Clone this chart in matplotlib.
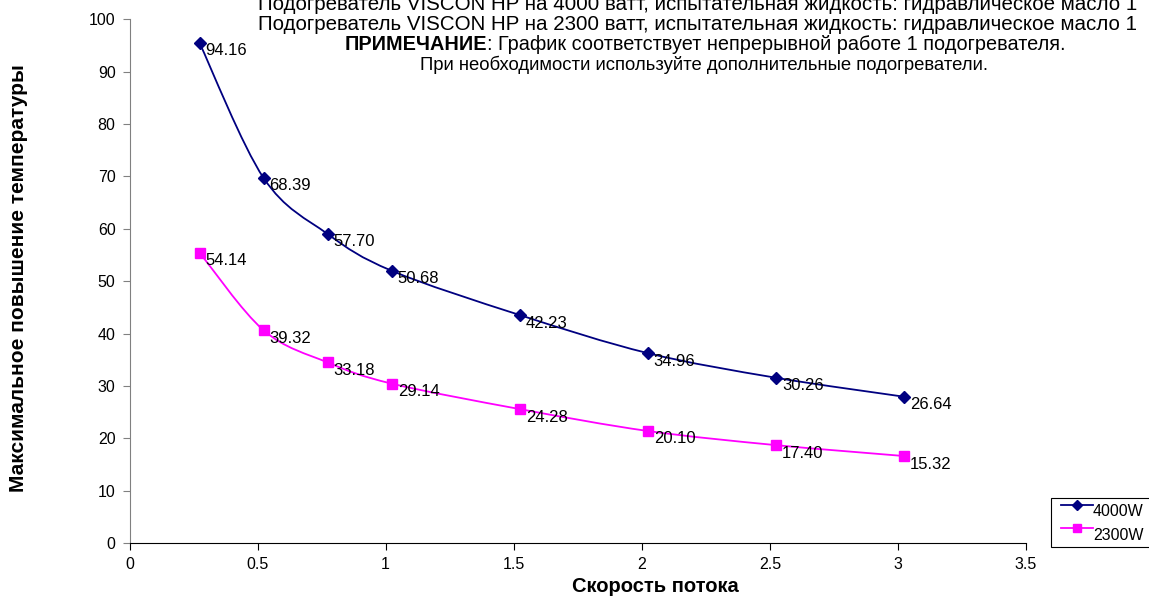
import matplotlib
matplotlib.use("Agg")
import matplotlib.pyplot as plt
import matplotlib.transforms as mtransforms
from matplotlib.path import Path
from matplotlib.patches import PathPatch, Rectangle
from matplotlib.lines import Line2D
import numpy as np

plt.rcParams['font.family'] = ['Liberation Sans', 'DejaVu Sans']

flow = [0.25, 0.5, 0.75, 1.0, 1.5, 2.0, 2.5, 3.0]
rise_4000 = [94.16, 68.39, 57.70, 50.68, 42.23, 34.96, 30.26, 26.64]
rise_2300 = [54.14, 39.32, 33.18, 29.14, 24.28, 20.10, 17.40, 15.32]
series_names = ["4000W", "2300W"]
title_lines = [
    "Подогреватель VISCON HP на 4000 ватт, испытательная жидкость: гидравлическое масло 1",
    "Подогреватель VISCON HP на 2300 ватт, испытательная жидкость: гидравлическое масло 1",
]
note_bold = "ПРИМЕЧАНИЕ"
note_rest = ": График соответствует непрерывной работе 1 подогревателя."
note_line2 = "При необходимости используйте дополнительные подогреватели."
xlabel = "Скорость потока"
ylabel = "Максимальное повышение температуры"

W, H, DPI = 1149, 597, 100
fig = plt.figure(figsize=(W / DPI, H / DPI), dpi=DPI)
ax = fig.add_axes([129.5 / W, 1 - 543.3 / H, (1026 - 129.5) / W, (543.3 - 19.3) / H])

ax.set_xlim(0, 3.5)
ax.set_ylim(0, 100)
ax.set_xticks(np.arange(0, 3.51, 0.5))
ax.set_xticklabels(["0", "0.5", "1", "1.5", "2", "2.5", "3", "3.5"])
ax.set_yticks(np.arange(0, 101, 10))
for s in ["top", "right"]:
    ax.spines[s].set_visible(False)
ax.spines["left"].set_color("#808080")
ax.spines["bottom"].set_color("black")
ax.tick_params(axis="both", direction="out", length=5, labelsize=11.5)
ax.tick_params(axis="x", pad=5)
ax.tick_params(axis="y", color="#808080", pad=5)

# rendering offset of the series in the reference (right & up)
off = mtransforms.ScaledTranslation(6 / DPI, 7 / DPI, fig.dpi_scale_trans)
tr = ax.transData + off


def smooth_path(xs, ys):
    pts = np.column_stack([xs, ys])
    n = len(pts)
    verts = [pts[0]]
    codes = [Path.MOVETO]
    for i in range(n - 1):
        p0 = pts[i - 1] if i > 0 else pts[i]
        p1 = pts[i]
        p2 = pts[i + 1]
        p3 = pts[i + 2] if i + 2 < n else pts[i + 1]
        c1 = p1 + (p2 - p0) / 6.0
        c2 = p2 - (p3 - p1) / 6.0
        verts += [c1, c2, p2]
        codes += [Path.CURVE4] * 3
    return Path(verts, codes)


styles = [
    dict(color="#000080", marker="D", ms=6),
    dict(color="#FF00FF", marker="s", ms=7),
]
for ys, st in zip([rise_4000, rise_2300], styles):
    patch = PathPatch(smooth_path(flow, ys), facecolor="none",
                      edgecolor=st["color"], lw=1.3, transform=tr)
    ax.add_patch(patch)
    ax.plot(flow, ys, linestyle="none", marker=st["marker"], ms=st["ms"],
            color=st["color"], mec=st["color"], transform=tr, clip_on=False)
    for x, y in zip(flow, ys):
        ax.annotate(f"{y:.2f}", (x, y), xytext=(12, -1), textcoords="offset pixels",
                    ha="left", va="center", fontsize=12, color="black")

# Titles
fig.text(258 / W, 1 - 4 / H, title_lines[0], ha="left", va="center", fontsize=14.8)
fig.text(258 / W, 1 - 25 / H, title_lines[1], ha="left", va="center", fontsize=14.8)
TS3 = 14.3
t1 = fig.text(0, 1 - 45 / H, note_bold, ha="left", va="center",
              fontsize=TS3, fontweight="bold")
t2 = fig.text(0, 1 - 45 / H, note_rest, ha="left", va="center", fontsize=TS3)
fig.canvas.draw()
w1 = t1.get_window_extent().width
w2 = t2.get_window_extent().width
x0 = 705 - (w1 + w2) / 2
t1.set_x(x0 / W)
t2.set_x((x0 + w1) / W)
fig.text(704 / W, 1 - 65 / H, note_line2, ha="center", va="center", fontsize=13.3)

fig.text(655 / W, 1 - 586 / H, xlabel, ha="center", va="center",
         fontsize=14.5, fontweight="bold")
fig.text(19 / W, 1 - 278 / H, ylabel, ha="center", va="center",
         fontsize=15, fontweight="bold", rotation=90)

# Legend (drawn in figure pixels)
ftr = mtransforms.Affine2D().scale(1 / W, -1 / H).translate(0, 1) + fig.transFigure
fig.add_artist(Rectangle((1050.5, 498), 120, 48.5, facecolor="white",
                         edgecolor="black", lw=0.8, transform=ftr))
for (name, st, ly, ty) in zip(series_names, styles, [505, 528], [511, 535]):
    fig.add_artist(Line2D([1061, 1093], [ly, ly], color=st["color"], lw=1.3,
                          transform=ftr))
    fig.add_artist(Line2D([1077], [ly], color=st["color"], marker=st["marker"],
                          ms=st["ms"] - 1, linestyle="none", transform=ftr))
    fig.text(1093 / W, 1 - ty / H, name, ha="left", va="center", fontsize=11.5)

fig.savefig("out.png", dpi=DPI)
